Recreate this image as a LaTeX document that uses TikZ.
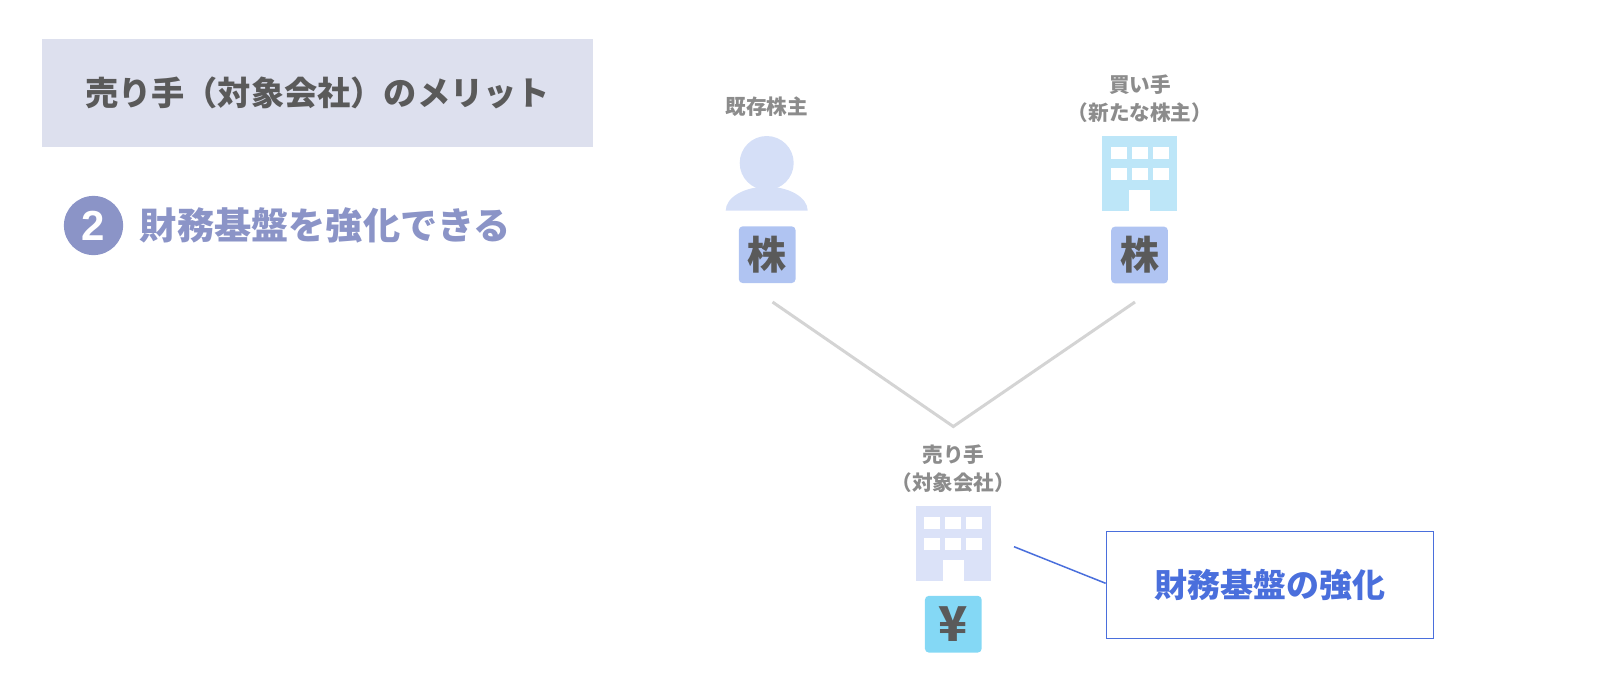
\documentclass[tikz,border=0pt]{standalone}
\usepackage{fontspec}
\setmainfont{Noto Sans CJK JP}
\newfontfamily\numberfont{Liberation Sans}
\usetikzlibrary{positioning,calc}
\definecolor{meritink}{HTML}{5A5A5A}
\definecolor{meritgrey}{HTML}{8C8C8C}
\definecolor{meritband}{HTML}{DDE0EE}
\definecolor{meritviolet}{HTML}{8B94C7}
\definecolor{meritblue}{HTML}{4A6FDC}
\definecolor{holderfill}{HTML}{D5DFF7}
\definecolor{buyerfill}{HTML}{BDE6F8}
\definecolor{targetfill}{HTML}{DBE2F8}
\definecolor{stockfill}{HTML}{B0C4F2}
\definecolor{cashfill}{HTML}{84D8F5}
\newcommand{\buildingparts}[1]{
  \foreach \wx in {-21,0,21} {
    \foreach \wy in {-20.7,0.6} {
      \fill[white] ($(#1)+(\wx-8,\wy-6)$) rectangle ($(#1)+(\wx+8,\wy+6)$);
    }
  }
  \fill[white] ($(#1)+(-10.5,16.8)$) rectangle ($(#1)+(10.5,37.2)$);
}
\tikzset{
  merit/label/.style={
    align=center,
    text=meritgrey,
    inner sep=0pt,
    font=\fontsize{10.3}{13.85}\selectfont\bfseries
  },
  merit/building/.style={
    minimum width=37.2pt,
    minimum height=37.2pt,
    inner sep=0pt,
    outer sep=0pt
  },
  merit/badge/.style={
    minimum width=28.4pt,
    minimum height=28.4pt,
    inner sep=0pt,
    outer sep=0pt,
    rounded corners=2pt,
    text=meritink,
    font=\fontsize{19.5}{22}\selectfont\bfseries
  },
  merit/link/.style={draw=black!17, line width=1.5pt},
  merit/note/.style={draw=meritblue, line width=0.75pt}
}

\begin{document}
\begin{tikzpicture}[x=0.5pt, y=-0.5pt]
\useasboundingbox (0,0) rectangle (1600,692);

\node (title) [fill=meritband, minimum width=275.5pt, minimum height=54pt, inner sep=0pt,
  text=meritink, font=\fontsize{16.6}{20}\selectfont\bfseries] at (317.5,93)
  {売り手（対象会社）のメリット};

\node (number) [circle, fill=meritviolet, minimum size=29.6pt, inner sep=0pt,
  text=white, font=\fontsize{21}{23}\numberfont\bfseries] at (93.5,225.5) {2};
\node (subtitle) [right=8pt of number, inner sep=0pt, text=meritviolet,
  font=\fontsize{18.6}{22}\selectfont\bfseries] {財務基盤を強化できる};

% --- shareholders
\node (holder) [circle, fill=holderfill, minimum size=27pt, inner sep=0pt] at (766.7,163) {};
\fill[holderfill] ($(holder)+(-41,47.7)$) arc[start angle=180, end angle=360, x radius=41, y radius=24] -- cycle;
\node (holderlabel) [merit/label] at (766.7,107) {既存株主};
\node (holderstock) [merit/badge, fill=stockfill] at (767.2,254.7) {株};

\node (buyer) [merit/building, fill=buyerfill] at (1139.5,173.4) {};
\buildingparts{buyer}
\node (buyerlabel) [merit/label] at (1140,99) {買い手\\（新たな株主）};
\node (buyerstock) [merit/badge, fill=stockfill, below=8pt of buyer] {株};

% --- target company
\node (target) [merit/building, fill=targetfill] at (953.3,543.6) {};
\buildingparts{target}
\node (targetlabel) [merit/label] at (953.3,469) {売り手\\（対象会社）};
\node (targetcash) [merit/badge, fill=cashfill, below=7.5pt of target,
  font=\fontsize{24}{26}\selectfont\bfseries] {¥};

\node (benefit) [merit/note, minimum width=163.6pt, minimum height=53.5pt, inner sep=0pt,
  text=meritblue, font=\fontsize{16.5}{20}\selectfont\bfseries] at (1270,585.2) {財務基盤の強化};

% --- connectors
\coordinate (holderend) at (772.5,302);
\coordinate (buyerend) at (1135,302);
\coordinate (joint) at (953.3,426.5);
\coordinate (noteend) at (1014,546.7);
\draw[merit/link] (holderend) -- (joint) -- (buyerend);
\draw[merit/note] (noteend) -- (benefit.west |- 0,583.3);

\end{tikzpicture}
\end{document}
